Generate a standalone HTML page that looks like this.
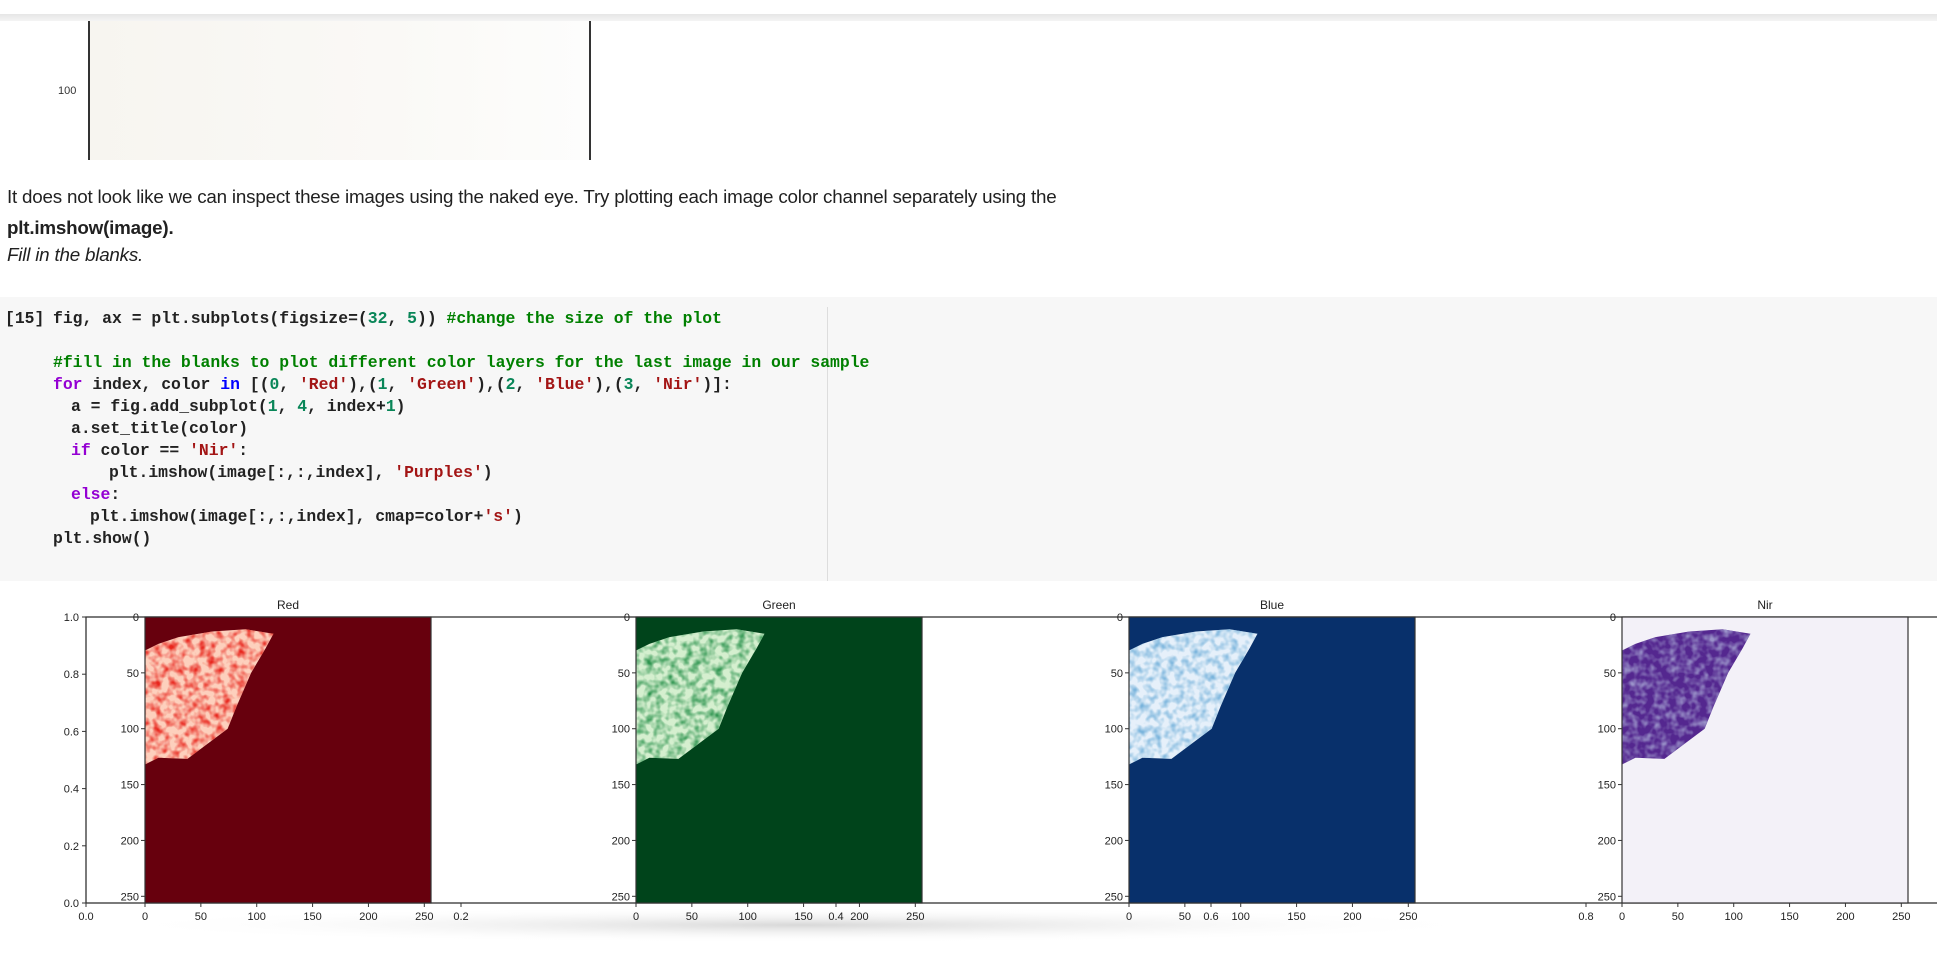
<!DOCTYPE html>
<html><head><meta charset="utf-8">
<style>
html,body{margin:0;padding:0;width:1937px;height:953px;overflow:hidden;background:#fff;font-family:"Liberation Sans",sans-serif;}
.abs{position:absolute;}
.txt{font-size:18.8px;color:#212121;left:7px;letter-spacing:-0.2px}
.code{position:absolute;left:0;top:297px;width:1937px;height:284px;background:#f7f7f7;}
.cl{position:absolute;font-family:"Liberation Mono",monospace;font-size:16.4px;font-weight:bold;white-space:pre;color:#222;}
.k{color:#9400d3}.b{color:#0000ff}.s{color:#a31515}.n{color:#098658}.c{color:#008000}
</style></head><body>
<div class="abs" style="left:0;top:14px;width:1937px;height:7px;background:linear-gradient(#e6e6e6,#f4f4f4)"></div>
<div class="abs" style="left:89px;top:21px;width:500px;height:139px;background:linear-gradient(90deg,#f7f5f0,#faf9f6 60%,#fdfdfc)"></div>
<div class="abs" style="left:88px;top:21px;width:1.5px;height:139px;background:#333"></div>
<div class="abs" style="left:589px;top:21px;width:1.5px;height:139px;background:#333"></div>
<div class="abs" style="left:58px;top:85px;font-size:11px;color:#333">100</div>
<div class="abs txt" style="top:186px">It does not look like we can inspect these images using the naked eye. Try plotting each image color channel separately using the</div>
<div class="abs txt" style="top:217px;font-weight:bold">plt.imshow(image).</div>
<div class="abs txt" style="top:244px;font-style:italic">Fill in the blanks.</div>
<div class="code">
<div class="abs" style="left:827px;top:10px;width:1px;height:274px;background:#ddd"></div>
<div class="cl" style="left:5px;top:12px">[15]</div>
<div class="cl" style="left:53px;top:12px">fig, ax = plt.subplots(figsize=(<span class="n">32</span>, <span class="n">5</span>)) <span class="c">#change the size of the plot</span></div>
<div class="cl" style="left:53px;top:56px"><span class="c">#fill in the blanks to plot different color layers for the last image in our sample</span></div>
<div class="cl" style="left:53px;top:78px"><span class="k">for</span> index, color <span class="b">in</span> [(<span class="n">0</span>, <span class="s">'Red'</span>),(<span class="n">1</span>, <span class="s">'Green'</span>),(<span class="n">2</span>, <span class="s">'Blue'</span>),(<span class="n">3</span>, <span class="s">'Nir'</span>)]:</div>
<div class="cl" style="left:71px;top:100px">a = fig.add_subplot(<span class="n">1</span>, <span class="n">4</span>, index+<span class="n">1</span>)</div>
<div class="cl" style="left:71px;top:122px">a.set_title(color)</div>
<div class="cl" style="left:71px;top:144px"><span class="k">if</span> color == <span class="s">'Nir'</span>:</div>
<div class="cl" style="left:109px;top:166px">plt.imshow(image[:,:,index], <span class="s">'Purples'</span>)</div>
<div class="cl" style="left:71px;top:188px"><span class="k">else</span>:</div>
<div class="cl" style="left:90px;top:210px">plt.imshow(image[:,:,index], cmap=color+<span class="s">'s'</span>)</div>
<div class="cl" style="left:53px;top:232px">plt.show()</div>
</div>
<svg id="fig" class="abs" style="left:0;top:581px" width="1937" height="372">
<defs>
<radialGradient id="shadow" cx="0.5" cy="0.5" r="0.5"><stop offset="0" stop-color="#d8d8d8"/><stop offset="1" stop-color="#fff" stop-opacity="0"/></radialGradient>
</defs>
</svg>
<script>
const bgXTicks=["0.0","0.2","0.4","0.6","0.8","1.0"];
const bgYTicks=["0.0","0.2","0.4","0.6","0.8","1.0"];
const channels=["Red","Green","Blue","Nir"];
const bgColors=["#67000d","#00441b","#08306b","#f3f1f8"];
const blobColors=["#fdd0bd","#d5efcf","#e6f0fa","#54278f"];
const texColors=["#e8261d","#2f9550","#7ab4dc","#9a93c9"];
const imgTicks=[0,50,100,150,200,250];
const blob=[[0,30],[12,24],[30,18],[60,13],[90,11],[115,15],[108,28],[95,50],[82,80],[74,100],[58,112],[38,127],[12,126],[0,132]];
const svg=document.getElementById('fig');
const NS='http://www.w3.org/2000/svg';
const OY=581;
const AX={l:86,r:1961,t:617-OY,b:903-OY};
const imgLeft=[145,636,1129,1622], IW=286, IH=286;
function mk(tag,attrs,parent){const e=document.createElementNS(NS,tag);for(const k in attrs)e.setAttribute(k,attrs[k]);(parent||svg).appendChild(e);return e;}
function bx(v){return AX.l+(AX.r-AX.l)*v;}
function by(v){return AX.b-(AX.b-AX.t)*v;}
const defs=svg.querySelector('defs');
texColors.forEach((tc,i)=>{
 const f=mk('filter',{id:'tex'+i,x:0,y:0,width:1,height:1},defs);
 mk('feTurbulence',{type:'fractalNoise',baseFrequency:0.13,numOctaves:2,seed:3+i,result:'n'},f);
 mk('feColorMatrix',{in:'n',type:'matrix',values:'0 0 0 0 0  0 0 0 0 0  0 0 0 0 0  0 0 0 2.2 -0.85',result:'a'},f);
 mk('feFlood',{'flood-color':tc,result:'fl'},f);
 mk('feComposite',{in:'fl',in2:'a',operator:'in',result:'c'},f);
 mk('feComposite',{in:'c',in2:'SourceGraphic',operator:'in'},f);
});
let sh=mk('ellipse',{cx:800,cy:AX.b+22,rx:700,ry:18,fill:'url(#shadow)'});


let fr=mk('rect',{x:AX.l,y:AX.t,width:AX.r-AX.l,height:AX.b-AX.t,fill:'none',stroke:'#333','stroke-width':1.3});


bgXTicks.forEach((t,i)=>{const v=parseFloat(t);const x=bx(v);
 let ln=mk('line',{x1:x,x2:x,y1:AX.b,y2:AX.b+4,stroke:'#333'});
 
 
 let tx=mk('text',{x:x,y:AX.b+17,'font-size':11,'text-anchor':'middle',fill:'#222','font-family':'Liberation Sans'});tx.textContent=t;
 
 
});
bgYTicks.forEach(t=>{const y=by(parseFloat(t));
 let ln=mk('line',{x1:AX.l-4,x2:AX.l,y1:y,y2:y,stroke:'#333'});
 
 
 let tx=mk('text',{x:AX.l-7,y:y+4,'font-size':11,'text-anchor':'end',fill:'#222','font-family':'Liberation Sans'});tx.textContent=t;
 
 
});
channels.forEach((c,i)=>{
 const L=imgLeft[i],T=AX.t;
 const sx=v=>L+v*IW/256, sy=v=>T+v*IH/256;
 const g=mk('g',{});
 
 
 let bg=mk('rect',{x:L,y:T,width:IW,height:IH,fill:bgColors[i]},g);
 
 
 const pts=blob.map(p=>sx(p[0])+','+sy(p[1])).join(' ');
 let bl=mk('polygon',{points:pts,fill:blobColors[i]},g);
 
 
 let tex=mk('polygon',{points:pts,fill:'#000',filter:'url(#tex'+i+')'},g);
 
 
 let fr2=mk('rect',{x:L,y:T,width:IW,height:IH,fill:'none',stroke:'#333','stroke-width':1.2},g);
 
 
 let tt=mk('text',{x:L+IW/2,y:T-8,'font-size':12,'text-anchor':'middle',fill:'#222','font-family':'Liberation Sans'},g);tt.textContent=c;
 
 
 imgTicks.forEach(v=>{
  let a=mk('line',{x1:sx(v),x2:sx(v),y1:T+IH,y2:T+IH+4,stroke:'#333'},g);
  
  
  let at=mk('text',{x:sx(v),y:T+IH+17,'font-size':11,'text-anchor':'middle',fill:'#222','font-family':'Liberation Sans'},g);at.textContent=v;
  
  
  let b=mk('line',{x1:L-4,x2:L,y1:sy(v),y2:sy(v),stroke:'#333'},g);
  
  
  let bt=mk('text',{x:L-6,y:sy(v)+4,'font-size':11,'text-anchor':'end',fill:'#222','font-family':'Liberation Sans'},g);bt.textContent=v;
  
  
 });
});
</script>
</body></html>
